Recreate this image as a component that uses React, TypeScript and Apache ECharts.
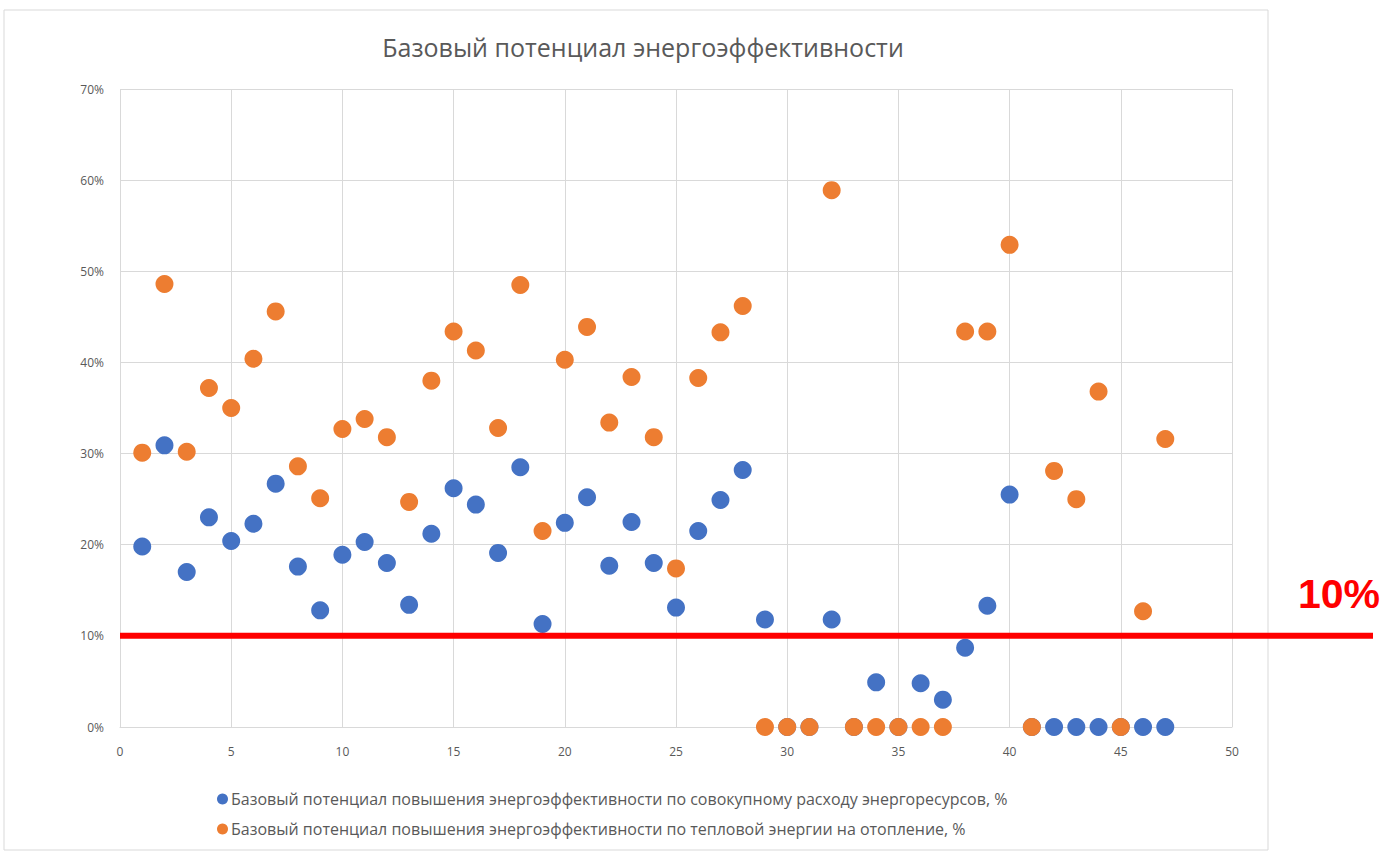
import React, { useEffect, useRef } from "react";
import * as echarts from "echarts";

const titleText = "Базовый потенциал энергоэффективности";
const seriesNames = [
  "Базовый потенциал повышения энергоэффективности по совокупному расходу энергоресурсов, %",
  "Базовый потенциал повышения энергоэффективности по тепловой энергии на отопление, %",
];
const objectIds = Array.from({ length: 47 }, (_, i) => i + 1);
const totalPotential = [
  19.8, 30.9, 17.0, 23.0, 20.4, 22.3, 26.7, 17.6, 12.8, 18.9,
  20.3, 18.0, 13.4, 21.2, 26.2, 24.4, 19.1, 28.5, 11.3, 22.4,
  25.2, 17.7, 22.5, 18.0, 13.1, 21.5, 24.9, 28.2, 11.8, 0,
  0, 11.8, 0, 4.9, 0, 4.8, 3.0, 8.7, 13.3, 25.5,
  0, 0, 0, 0, 0, 0, 0,
];
const heatingPotential = [
  30.1, 48.6, 30.2, 37.2, 35.0, 40.4, 45.6, 28.6, 25.1, 32.7,
  33.8, 31.8, 24.7, 38.0, 43.4, 41.3, 32.8, 48.5, 21.5, 40.3,
  43.9, 33.4, 38.4, 31.8, 17.4, 38.3, 43.3, 46.2, 0, 0,
  0, 58.9, 0, 0, 0, 0, 0, 43.4, 43.4, 52.9,
  0, 28.1, 25.0, 36.8, 0, 12.7, 31.6,
];
const thresholdValue = 10;
const thresholdLabel = "10%";

export default function App() {
  const ref = useRef<HTMLDivElement>(null);
  useEffect(() => {
    if (!ref.current) return;
    const chart = echarts.init(ref.current, undefined, { renderer: "svg" });
    const font = "'Open Sans', 'Noto Sans', sans-serif";
    chart.setOption({
      animation: false,
      backgroundColor: "#ffffff",
      title: {
        text: titleText,
        left: 638,
        textAlign: "center",
        top: 29,
        textStyle: { color: "#595959", fontSize: 25, fontWeight: "normal", fontFamily: font },
      },
      grid: { left: 120, right: 151, top: 89, bottom: 128, containLabel: false },
      xAxis: {
        type: "value",
        min: 0,
        max: 50,
        interval: 5,
        axisLine: { show: true, lineStyle: { color: "#D9D9D9" } },
        axisTick: { show: false },
        axisLabel: { color: "#595959", fontSize: 12, fontFamily: font, margin: 18 },
        splitLine: { show: true, lineStyle: { color: "#D9D9D9" } },
      },
      yAxis: {
        type: "value",
        min: 0,
        max: 70,
        interval: 10,
        axisLine: { show: false },
        axisTick: { show: false },
        axisLabel: { color: "#595959", fontSize: 12, fontFamily: font, margin: 16, formatter: "{value}%" },
        splitLine: { show: true, lineStyle: { color: "#D9D9D9" } },
      },
      legend: {
        orient: "vertical",
        left: 212,
        top: 786,
        itemGap: 14,
        itemWidth: 11,
        itemHeight: 11,
        icon: "circle",
        textStyle: { color: "#595959", fontSize: 16, fontFamily: font, padding: [0, 0, 0, -2] },
        data: seriesNames,
      },
      series: [
        {
          name: seriesNames[0],
          type: "scatter",
          symbolSize: 18,
          itemStyle: { color: "#4472C4", opacity: 1 },
          data: objectIds.map((x, i) => [x, totalPotential[i]]),
        },
        {
          name: seriesNames[1],
          type: "scatter",
          symbolSize: 18,
          itemStyle: { color: "#ED7D31", opacity: 1 },
          data: objectIds.map((x, i) => [x, heatingPotential[i]]),
        },
      ],
    });
    const y = chart.convertToPixel({ yAxisIndex: 0 }, thresholdValue) as number;
    const x0 = chart.convertToPixel({ xAxisIndex: 0 }, 0) as number;
    chart.setOption({
      graphic: [
        {
          type: "rect",
          shape: { x: 4, y: 10, width: 1264, height: 840 },
          style: { fill: "none", stroke: "#D9D9D9", lineWidth: 1 },
          z: -1,
        },
        {
          type: "line",
          shape: { x1: x0, y1: y, x2: 1373, y2: y },
          style: { stroke: "#FF0000", lineWidth: 6 },
          z: 100,
        },
        {
          type: "text",
          x: 1339,
          y: y - 21,
          style: {
            text: thresholdLabel,
            fill: "#FF0000",
            fontSize: 41,
            fontWeight: "bold",
            fontFamily: "'Liberation Sans', Arial, sans-serif",
            textAlign: "center",
            textVerticalAlign: "bottom",
          },
          z: 100,
        },
      ],
    });
    return () => chart.dispose();
  }, []);
  return (
    <div
      ref={ref}
      style={{ position: "fixed", left: 0, top: 0, width: 1383, height: 855 }}
    />
  );
}
